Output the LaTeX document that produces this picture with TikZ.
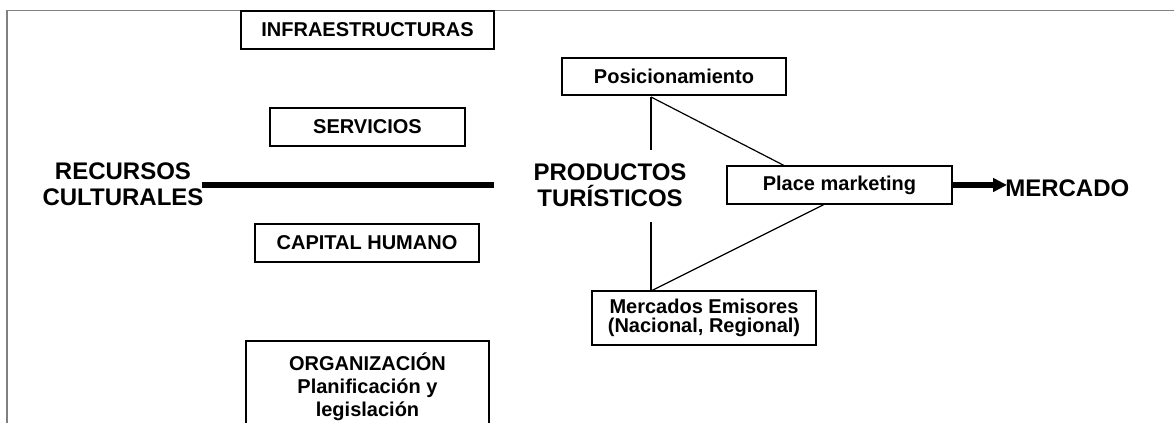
\documentclass[tikz,border=0pt]{standalone}
\usepackage{fontspec}
\setmainfont{Liberation Sans}
\usetikzlibrary{arrows.meta}
\begin{document}
\begin{tikzpicture}[x=0.75pt,y=-0.75pt,
  box/.style={draw=black,line width=0.9pt,fill=white,align=center,inner sep=0pt,
    font=\fontsize{15}{14.5}\selectfont\bfseries},
  big/.style={align=center,inner sep=0pt,font=\fontsize{18}{19.5}\selectfont\bfseries},
  thin/.style={draw=black,line width=0.9pt},
  frame/.style={draw=black!50,line width=1.3pt},
  thick/.style={draw=black,line width=3.9pt}]
\clip (0,0) rectangle (1174,423);
\useasboundingbox (0,0) rectangle (1174,423);
% frame
\coordinate (f0) at (7,423);
\coordinate (f1) at (7,10.5);
\coordinate (f2) at (1180,10.5);
\draw[frame] (f0) -- (f1) -- (f2);
% left column boxes
\node[box,minimum width=189.75pt,minimum height=28.5pt] (infra) at (367.5,30) {INFRAESTRUCTURAS};
\node[box,minimum width=146.25pt,minimum height=28.5pt] (serv) at (367.5,127) {SERVICIOS};
\node[box,minimum width=168pt,minimum height=28.5pt] (cap) at (367,243) {CAPITAL HUMANO};
\node[box,minimum width=182.25pt,minimum height=69pt,font=\fontsize{15}{17.25}\selectfont\bfseries] (org) at (367.5,387) {ORGANIZACIÓN\\Planificación y\\legislación};
% main labels
\node[big] (rec) at (123,184) {RECURSOS\\CULTURALES};
\node[big] (prod) at (610,185) {PRODUCTOS\\TURÍSTICOS};
\node[big,anchor=west] (merc) at (1005,188) {MERCADO};
% thick line
\coordinate (l0) at (202,185);
\coordinate (l1) at (494,185);
\draw[thick] (l0) -- (l1);
% right boxes
\node[box,minimum width=168pt,minimum height=27.75pt] (pos) at (674,76.5) {Posicionamiento};
\node[box,minimum width=168.75pt,minimum height=28.5pt] (pm) at (839.5,185) {Place marketing};
\node[box,minimum width=168pt,minimum height=40.5pt,font=\fontsize{15}{14.3}\selectfont\bfseries] (emi) at (704,318) {Mercados Emisores\\(Nacional, Regional)};
% connectors
\coordinate (v0) at (651,97);
\coordinate (v1) at (651,150);
\coordinate (v2) at (651,222);
\coordinate (v3) at (651,291);
\coordinate (d1) at (785,166);
\coordinate (d2) at (825,204);
\draw[thin] (v0) -- (v1);
\draw[thin] (v2) -- (v3);
\draw[thin] (v0) -- (d1);
\draw[thin] (d2) -- (v3);
\coordinate (ae) at (1007,185);
\draw[thick,-{Triangle[length=10.5pt,width=10pt]}] (pm.east) -- (ae);
\end{tikzpicture}
\end{document}
